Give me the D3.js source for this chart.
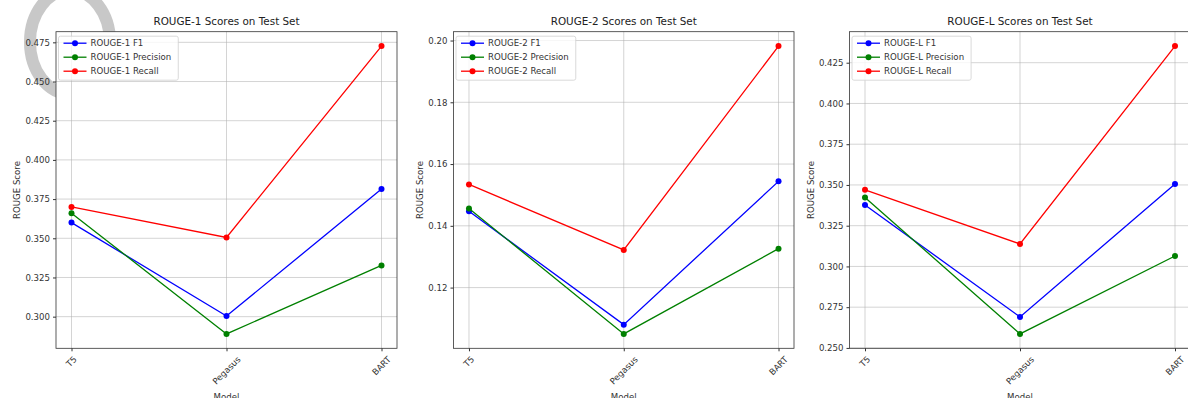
<!DOCTYPE html>
<html>
<head>
<meta charset="utf-8">
<script src="https://cdn.jsdelivr.net/npm/d3@7"></script>
<style>
  body { margin: 0; background: #fff; }
  svg { display: block; font-family: "DejaVu Sans", sans-serif; }
</style>
</head>
<body>
<svg id="chart" width="1188" height="398"></svg>
<script>
// models on the x axis
var models = ["T5", "Pegasus", "BART"];

// ROUGE-1
var rouge1F1 = [0.3600, 0.3004, 0.3814];
var rouge1Precision = [0.3660, 0.2890, 0.3327];
var rouge1Recall = [0.3700, 0.3505, 0.4726];
var rouge1Ticks = [0.300, 0.325, 0.350, 0.375, 0.400, 0.425, 0.450, 0.475];

// ROUGE-2
var rouge2F1 = [0.1447, 0.1080, 0.1544];
var rouge2Precision = [0.1456, 0.1050, 0.1326];
var rouge2Recall = [0.1534, 0.1322, 0.1982];
var rouge2Ticks = [0.12, 0.14, 0.16, 0.18, 0.20];

// ROUGE-L
var rougeLF1 = [0.3377, 0.2690, 0.3506];
var rougeLPrecision = [0.3423, 0.2586, 0.3064];
var rougeLRecall = [0.3470, 0.3138, 0.4352];
var rougeLTicks = [0.250, 0.275, 0.300, 0.325, 0.350, 0.375, 0.400, 0.425];

var panels = [
    {name: "ROUGE-1", left: 56, right: 397, ticks: rouge1Ticks, fmt: ".3f",
     series: [rouge1F1, rouge1Precision, rouge1Recall]},
    {name: "ROUGE-2", left: 453.5, right: 794, ticks: rouge2Ticks, fmt: ".2f",
     series: [rouge2F1, rouge2Precision, rouge2Recall]},
    {name: "ROUGE-L", left: 849.5, right: 1190.5, ticks: rougeLTicks, fmt: ".3f",
     series: [rougeLF1, rougeLPrecision, rougeLRecall]}
];
var seriesNames = ["F1", "Precision", "Recall"];
var colors = ["#0000ff", "#008000", "#ff0000"];

var svg = d3.select("#chart");
var axTop = 31.7, axBottom = 348.3; // window.top is taken, so not "top"
var fontSize = 8.6;

// grey watermark ring behind everything (axes background hides the inner part)
svg.append("ellipse")
    .attr("cx", 70).attr("cy", 42).attr("rx", 40).attr("ry", 52)
    .attr("fill", "none").attr("stroke", "#c8c8c8").attr("stroke-width", 12);

panels.forEach(function(p) {
    var g = svg.append("g");

    var all = [].concat(p.series[0], p.series[1], p.series[2]);
    var lo = d3.min(all), hi = d3.max(all), pad = (hi - lo) * 0.05; // matplotlib style 5% margin
    var y = d3.scaleLinear().domain([lo - pad, hi + pad]).range([axBottom, axTop]);
    var x = d3.scalePoint().domain(models).range([p.left, p.right]).padding(0.1);

    // axes background
    g.append("rect")
        .attr("x", p.left).attr("y", axTop)
        .attr("width", p.right - p.left).attr("height", axBottom - axTop)
        .attr("fill", "#fff");

    // grid
    g.selectAll(".hgrid").data(p.ticks).enter().append("line")
        .attr("x1", p.left).attr("x2", p.right)
        .attr("y1", d => y(d)).attr("y2", d => y(d))
        .attr("stroke", "#b0b0b0").attr("stroke-opacity", 0.55).attr("stroke-width", 1);
    g.selectAll(".vgrid").data(models).enter().append("line")
        .attr("x1", d => x(d)).attr("x2", d => x(d))
        .attr("y1", axTop).attr("y2", axBottom)
        .attr("stroke", "#b0b0b0").attr("stroke-opacity", 0.55).attr("stroke-width", 1);

    // y axis
    var yAxis = g.append("g")
        .attr("transform", "translate(" + p.left + ",0)")
        .call(d3.axisLeft(y).tickValues(p.ticks).tickFormat(d3.format(p.fmt)).tickSize(3).tickPadding(3));
    yAxis.select(".domain").remove();
    yAxis.selectAll("line").attr("stroke", "#333");
    yAxis.selectAll("text").attr("font-size", fontSize).attr("fill", "#333").attr("font-family", "DejaVu Sans");

    // x axis
    var xAxis = g.append("g")
        .attr("transform", "translate(0," + axBottom + ")")
        .call(d3.axisBottom(x).tickSize(3).tickFormat(""));
    xAxis.select(".domain").remove();
    xAxis.selectAll("line").attr("stroke", "#333");

    // rotated x labels, centred under tick
    models.forEach(function(m) {
        var t = g.append("text")
            .attr("font-size", fontSize).attr("fill", "#333")
            .attr("text-anchor", "middle").attr("dominant-baseline", "central")
            .text(m);
        var w = t.node().getComputedTextLength();
        var half = (w + fontSize) / Math.SQRT2 / 2;
        var cy = axBottom + 6.5 + half;
        t.attr("transform", "translate(" + x(m) + "," + cy + ") rotate(-45)");
    });

    // lines and markers
    p.series.forEach(function(vals, i) {
        var pts = models.map((m, j) => [x(m), y(vals[j])]);
        g.append("path")
            .attr("d", d3.line()(pts))
            .attr("fill", "none").attr("stroke", colors[i]).attr("stroke-width", 1.3);
        g.selectAll(".dot" + i).data(pts).enter().append("circle")
            .attr("cx", d => d[0]).attr("cy", d => d[1]).attr("r", 3)
            .attr("fill", colors[i]);
    });

    // frame
    g.append("rect")
        .attr("x", p.left).attr("y", axTop)
        .attr("width", p.right - p.left).attr("height", axBottom - axTop)
        .attr("fill", "none").attr("stroke", "#333").attr("stroke-width", 0.8);

    // title
    g.append("text")
        .attr("x", (p.left + p.right) / 2).attr("y", 25)
        .attr("text-anchor", "middle").attr("font-size", 10.4).attr("fill", "#222")
        .text(p.name + " Scores on Test Set");

    // axis labels
    var tickW = d3.max(yAxis.selectAll("text").nodes(), n => n.getComputedTextLength());
    var lx = p.left - 6 - tickW - 4 - fontSize / 2;
    g.append("text")
        .attr("transform", "translate(" + lx + "," + ((axTop + axBottom) / 2) + ") rotate(-90)")
        .attr("text-anchor", "middle").attr("dominant-baseline", "central")
        .attr("font-size", fontSize).attr("fill", "#333")
        .text("ROUGE Score");
    g.append("text")
        .attr("x", (p.left + p.right) / 2).attr("y", 400)
        .attr("text-anchor", "middle").attr("font-size", fontSize).attr("fill", "#333")
        .text("Model");

    // legend
    var lg = g.append("g").attr("transform", "translate(" + (p.left + 2.5) + "," + (axTop + 4.5) + ")");
    var labels = seriesNames.map(s => p.name + " " + s);
    var tmp = lg.append("text").attr("font-size", fontSize).text(labels[1]);
    var lw = tmp.node().getComputedTextLength();
    tmp.remove();
    lg.append("rect")
        .attr("width", 34 + lw + 5).attr("height", 44).attr("rx", 2)
        .attr("fill", "#fff").attr("fill-opacity", 0.8)
        .attr("stroke", "#d0d0d0").attr("stroke-width", 0.8);
    labels.forEach(function(l, i) {
        var ry = 7 + i * 14;
        lg.append("line").attr("x1", 5).attr("x2", 28).attr("y1", ry).attr("y2", ry)
            .attr("stroke", colors[i]).attr("stroke-width", 1.3);
        lg.append("circle").attr("cx", 16.5).attr("cy", ry).attr("r", 3).attr("fill", colors[i]);
        lg.append("text").attr("x", 32).attr("y", ry).attr("dominant-baseline", "central")
            .attr("font-size", fontSize).attr("fill", "#333").text(l);
    });
});
</script>
</body>
</html>
